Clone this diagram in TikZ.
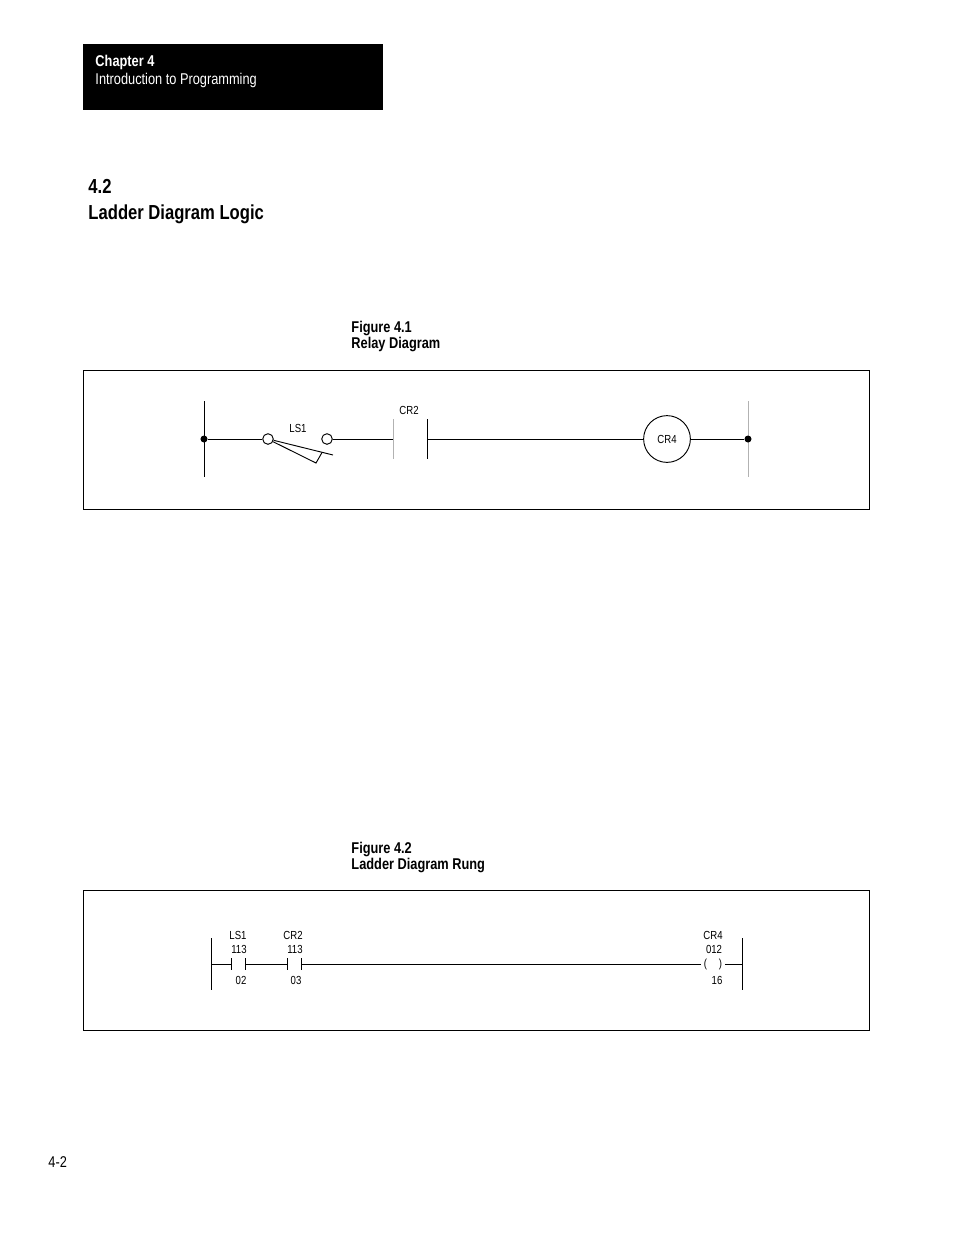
\documentclass[tikz,border=0pt]{standalone}
\usepackage{fontspec}
\setmainfont{Liberation Sans}[FakeStretch=0.82]

\begin{document}
\begin{tikzpicture}[x=0.6415pt,y=-0.6415pt,line width=0.6pt,
	txt/.style={anchor=base west,inner sep=0pt,font=\fontsize{10}{12}\selectfont},
	btxt/.style={anchor=base west,inner sep=0pt,font=\bfseries\fontsize{10}{12}\selectfont},
	lbl/.style={inner sep=0pt,font=\fontsize{7.5}{9}\selectfont},
	term/.style={circle,draw,fill=white,inner sep=0pt,minimum size=6.8pt},
	jn/.style={circle,fill=black,inner sep=0pt,minimum size=4.5pt},
	coil/.style={circle,draw,inner sep=0pt,minimum size=30pt,font=\fontsize{7.5}{9}\selectfont}]
\useasboundingbox (0,0) rectangle (954,1235);
% header
\fill[black] (83,44) rectangle (383,110);
\node[btxt,text=white] (chap) at (95,66) {Chapter 4};
\node[txt,text=white] (chaptitle) at (95,84) {Introduction to Programming};
\node[btxt,font=\bfseries\fontsize{13}{15}\selectfont] (secnum) at (88,193) {4.2};
\node[btxt,font=\bfseries\fontsize{13}{15}\selectfont] (sectitle) at (88,219) {Ladder Diagram Logic};
% figure 4.1
\node[btxt] (fig1) at (351,332) {Figure 4.1};
\node[btxt] (fig1title) at (351,348) {Relay Diagram};
\draw (83,370) rectangle (869,509);
\draw (204,401) -- (204,477);
\draw[gray!60] (748,401) -- (748,477);
\node[jn] (j1) at (204,439) {};
\node[jn] (j2) at (748,439) {};
\node[term] (ls1a) at (268,439) {};
\node[term] (ls1b) at (327,439) {};
\coordinate (cr2l) at (393,439);
\coordinate (cr2r) at (427,439);
\node[coil] (cr4) at (667,439) {CR4};
\draw (j1) -- (ls1a);
\draw (ls1b) -- (cr2l);
\draw (cr2r) -- (cr4);
\draw (cr4) -- (j2);
\draw[gray!60] (cr2l) ++(0,-20) -- ++(0,40);
\draw (cr2r) ++(0,-20) -- ++(0,40);
\draw (ls1a.-13) -- (333,455);
\draw (ls1a.-28) -- (316,463) -- (322,452.5);
\node[lbl] (ls1lbl) at (298,428) {LS1};
\node[lbl] (cr2lbl) at (409,410) {CR2};
% figure 4.2
\node[btxt] (fig2) at (351,853) {Figure 4.2};
\node[btxt] (fig2title) at (351,869) {Ladder Diagram Rung};
\draw (83,890) rectangle (869,1030);
\draw (211,938) -- (211,990);
\draw (742,938) -- (742,990);
\coordinate (rl) at (211,964);
\coordinate (rr) at (742,964);
\coordinate (a1) at (231,964);
\coordinate (a2) at (245,964);
\coordinate (b1) at (287,964);
\coordinate (b2) at (301,964);
\node[lbl,inner xsep=1.5pt] (out) at (713,964) {(\hspace{7.5pt})};
\draw (rl) -- (a1);
\draw (a2) -- (b1);
\draw (b2) -- (out);
\draw (out) -- (rr);
\foreach \c in {a1,a2,b1,b2}
	\draw (\c) ++(0,-6) -- ++(0,12);
\node[lbl] (ls1n) at (238,935) {LS1};
\node[lbl] (ls1w) at (239,949) {113};
\node[lbl] (ls1b2) at (241,980) {02};
\node[lbl] (cr2n) at (293,935) {CR2};
\node[lbl] (cr2w) at (295,949) {113};
\node[lbl] (cr2b) at (296,980) {03};
\node[lbl] (cr4n) at (713,935) {CR4};
\node[lbl] (cr4w) at (714,949) {012};
\node[lbl] (cr4b) at (717,980) {16};
% page number
\node[txt] (page) at (48,1167) {4-2};
\end{tikzpicture}
\end{document}
